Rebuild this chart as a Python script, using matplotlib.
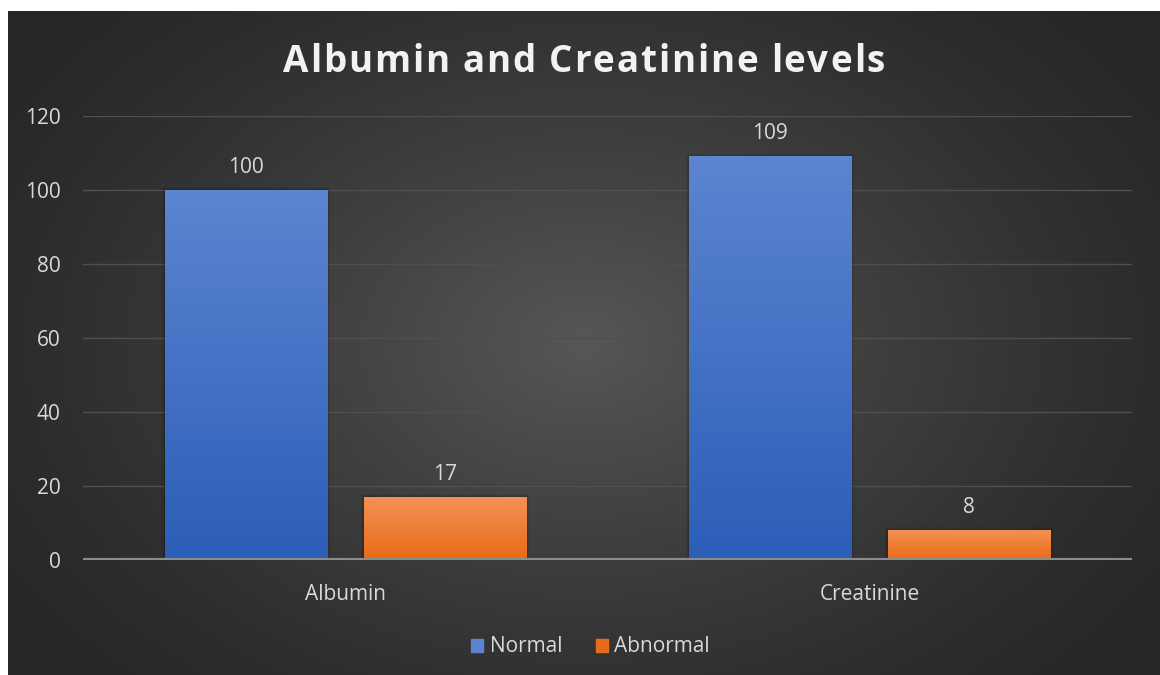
import numpy as np
import matplotlib
matplotlib.use("Agg")
import matplotlib.pyplot as plt
from matplotlib.patches import Rectangle
from matplotlib.font_manager import FontProperties

categories = ["Albumin", "Creatinine"]
normal = [100, 109]
abnormal = [17, 8]
series_names = ["Normal", "Abnormal"]
y_ticks = [0, 20, 40, 60, 80, 100, 120]

W, H = 1160, 675
fig = plt.figure(figsize=(W / 100, H / 100), dpi=100)
fig.patch.set_facecolor("white")

# dark panel with a soft radial highlight in the middle
bg = fig.add_axes([8 / W, 0, 1 - 8 / W, 1 - 11 / H])
bg.set_axis_off()
yy, xx = np.mgrid[0:1:300j, 0:1:500j]
r = np.sqrt(((xx - 0.5) / 0.62) ** 2 + ((yy - 0.5) / 0.75) ** 2)
shade = np.clip(1 - r, 0, 1) ** 1.3
lo, hi = np.array([0.15, 0.15, 0.15]), np.array([0.34, 0.34, 0.34])
img = lo + (hi - lo) * shade[..., None]
bg.imshow(img, extent=[0, 1, 0, 1], aspect="auto", interpolation="bilinear")

ax = fig.add_axes([83 / W, 1 - 560 / H, (1132 - 83) / W, (560 - 116) / H])
ax.patch.set_alpha(0)

x = np.arange(len(categories))
width = 0.309
offset = 0.19
FS = 15


def gradient_bars(xs, vals, top, bottom, label):
    bars = ax.bar(xs, vals, width, color=bottom, label=label, zorder=3)
    grad = np.linspace(0, 1, 100)[:, None, None]
    cols = np.array(top) * (1 - grad) + np.array(bottom) * grad
    for b in bars:
        x0, y0 = b.get_x(), b.get_y()
        w, h = b.get_width(), b.get_height()
        # faint shadow around bar
        for k, a in zip([0.02, 0.012, 0.006], [0.06, 0.08, 0.1]):
            ax.add_patch(Rectangle((x0 - k * 0.3, 0), w + k * 0.6, h + k * 40,
                                   facecolor="black", alpha=a, lw=0, zorder=2))
        ax.imshow(cols, extent=[x0, x0 + w, y0, y0 + h], aspect="auto",
                  zorder=4, interpolation="bilinear")
        ax.text(x0 + w / 2, h + 3.3, f"{h:g}", ha="center", va="bottom",
                color="#d9d9d9", fontsize=FS, family="Open Sans", zorder=5)
    return bars


blue_top, blue_bot = (0.36, 0.52, 0.82), (0.17, 0.37, 0.72)
orange_top, orange_bot = (0.95, 0.57, 0.33), (0.91, 0.42, 0.09)
gradient_bars(x - offset, normal, blue_top, blue_bot, series_names[0])
gradient_bars(x + offset, abnormal, orange_top, orange_bot, series_names[1])
ax.set_xlim(-0.5, 1.5)
ax.set_ylim(0, 120)

ax.set_yticks(y_ticks)
ax.grid(axis="y", color="#4f4f4f", lw=1, zorder=1)
ax.axhline(0, color="#8c8c8c", lw=3, zorder=6)
ax.set_xticks(x)
ax.set_xticklabels(categories)
for s in ax.spines.values():
    s.set_visible(False)
ax.tick_params(length=0, colors="#d9d9d9", labelsize=FS)
ax.tick_params(axis="x", pad=17)
ax.tick_params(axis="y", pad=16)
for t in ax.get_xticklabels() + ax.get_yticklabels():
    t.set_family("Open Sans")

# title drawn letter by letter so it can be tracked out
title = "Albumin and Creatinine levels"
tprop = FontProperties(family="Open Sans", weight="bold", size=26.5)
rend = fig.canvas.get_renderer()
adv = [rend.get_text_width_height_descent(c, tprop, ismath=False)[0] for c in title]
space_w = rend.get_text_width_height_descent("a a", tprop, ismath=False)[0] - \
    rend.get_text_width_height_descent("aa", tprop, ismath=False)[0]
adv = [space_w if c == " " else a for c, a in zip(title, adv)]
left, right = 283, 885
track = (right - left - sum(adv)) / (len(title) - 1)
px = left
for c, a in zip(title, adv):
    if c != " ":
        fig.text(px / W, 1 - 62 / H, c, ha="left", va="center", color="#f2f2f2",
                 fontproperties=tprop)
    px += a + track

leg = fig.legend(*ax.get_legend_handles_labels(), loc="center",
                 bbox_to_anchor=(0.509, 1 - 647 / H), ncol=2, frameon=False,
                 handlelength=0.6, handleheight=0.6, handletextpad=0.3,
                 columnspacing=1.6, prop={"family": "Open Sans", "size": FS})
for lt in leg.get_texts():
    lt.set_color("#d9d9d9")
leg.legend_handles[0].set_color(blue_top)
leg.legend_handles[1].set_color(orange_bot)

fig.savefig("out.png", dpi=100, facecolor=fig.get_facecolor())
